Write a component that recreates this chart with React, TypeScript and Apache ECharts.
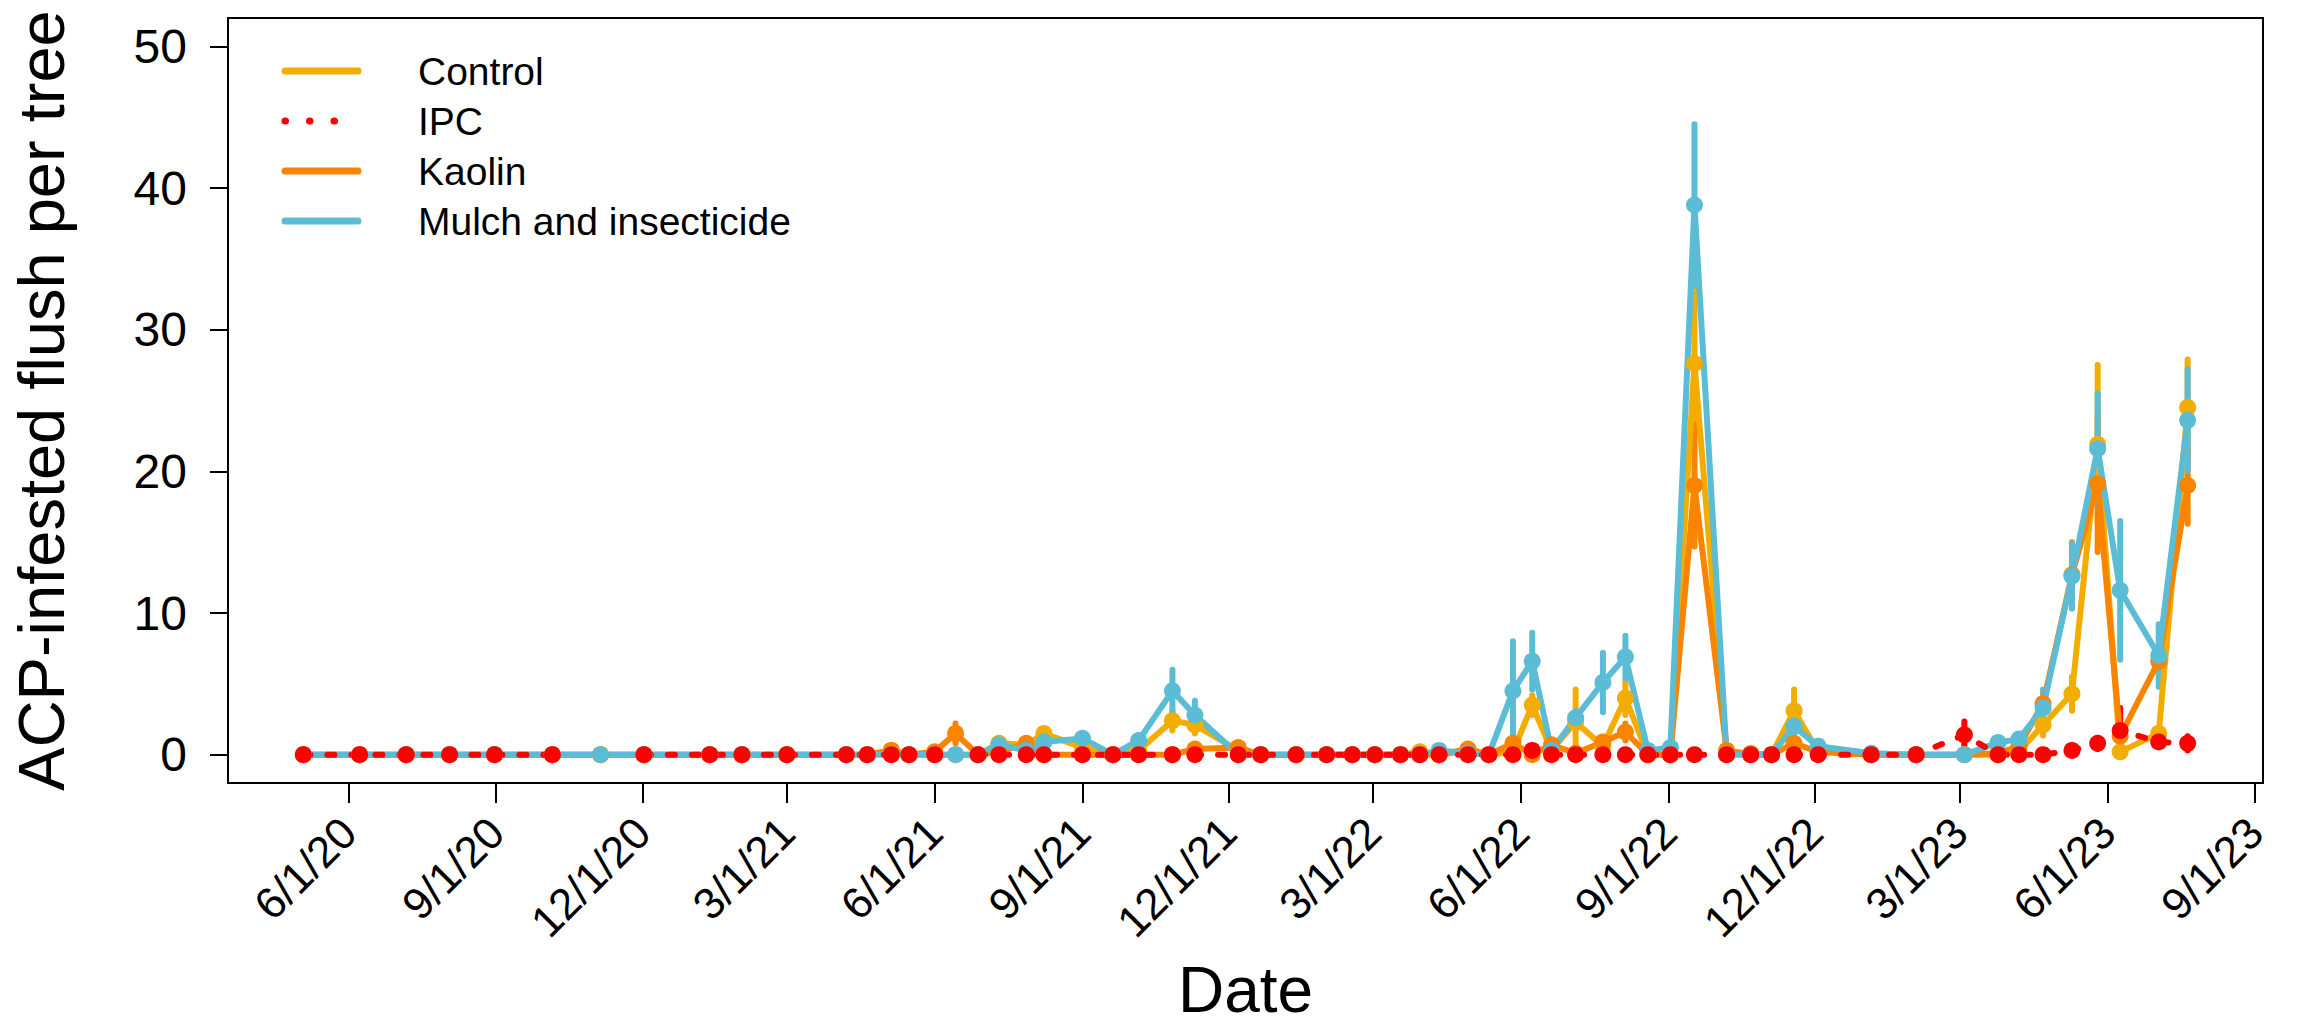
import React, { useEffect, useRef } from "react";
import * as echarts from "echarts";

const dates = [
  "2020-05-04", "2020-06-08", "2020-07-07", "2020-08-03", "2020-08-31", "2020-10-06", "2020-11-05", "2020-12-02", "2021-01-12", "2021-02-01",
  "2021-03-01", "2021-04-07", "2021-04-20", "2021-05-05", "2021-05-16", "2021-06-01", "2021-06-14", "2021-06-28", "2021-07-11", "2021-07-28",
  "2021-08-08", "2021-09-01", "2021-09-20", "2021-10-06", "2021-10-27", "2021-11-10", "2021-12-07", "2021-12-21", "2022-01-12", "2022-01-31",
  "2022-02-16", "2022-03-02", "2022-03-18", "2022-03-30", "2022-04-11", "2022-04-29", "2022-05-12", "2022-05-27", "2022-06-08", "2022-06-20",
  "2022-07-05", "2022-07-22", "2022-08-05", "2022-08-19", "2022-09-02", "2022-09-17", "2022-10-07", "2022-10-22", "2022-11-04", "2022-11-18",
  "2022-12-03", "2023-01-05", "2023-02-02", "2023-03-04", "2023-03-25", "2023-04-07", "2023-04-22", "2023-05-10", "2023-05-26", "2023-06-09",
  "2023-07-03", "2023-07-21",
];

const control = [
  0, 0, 0, 0, 0, 0, 0, 0, 0, 0,
  0, 0, 0, 0.3, 0, 0, 0, 0, 0.8, 0.7,
  1.5, 0.5, 0, 0.3, 2.4, 2.1, 0.3, 0, 0, 0,
  0, 0, 0, 0.2, 0, 0.3, 0, 0.2, 3.5, 0.3,
  2.3, 0.6, 4.0, 0, 0, 27.6, 0.2, 0.1, 0, 3.1,
  0.2, 0, 0, 0, 0, 0.2, 2.1, 4.3, 21.9, 0.2,
  1.5, 24.5,
];
const controlSE = [
  0, 0, 0, 0, 0, 0, 0, 0, 0, 0,
  0, 0, 0, 0, 0, 0, 0, 0, 0.2, 0.1,
  0.3, 0, 0, 0, 0.7, 0.6, 0, 0, 0, 0,
  0, 0, 0, 0, 0, 0, 0, 0, 0.7, 0,
  2.3, 0, 1.2, 0, 0, 5.2, 0, 0, 0, 1.5,
  0, 0, 0, 0, 0, 0, 0.75, 1.2, 5.6, 0,
  0.4, 3.4,
];

const ipc = [
  0, 0, 0, 0, 0, 0, null, 0, 0, 0,
  0, 0, 0, 0, 0, 0, null, 0, 0, 0,
  0, 0, 0, 0, 0, 0, 0, 0, 0, 0,
  0, 0, 0, 0, 0, 0, 0, 0, 0.3, 0,
  0, 0, 0, 0, 0, 0, 0, 0, 0, 0,
  0, 0, 0, 1.4, 0, 0, 0, 0.3, 0.8, 1.7,
  0.9, 0.8,
];
const ipcSE = [
  0, 0, 0, 0, 0, 0, 0, 0, 0, 0,
  0, 0, 0, 0, 0, 0, 0, 0, 0, 0,
  0, 0, 0, 0, 0, 0, 0, 0, 0, 0,
  0, 0, 0, 0, 0, 0, 0, 0, 0, 0,
  0, 0, 0, 0, 0, 0, 0, 0, 0, 0,
  0, 0, 0, 0.95, 0, 0, 0, 0.2, 0.4, 1.6,
  0.3, 0.5,
];

const kaolin = [
  0, 0, 0, 0, 0, 0, 0, 0, 0, 0,
  0, 0, 0, 0.3, 0, 0.2, 1.5, 0, 0.2, 0.8,
  0, 0, 0, 0, 0, 0.4, 0.5, 0, 0, 0,
  0, 0, 0, 0, 0, 0.4, 0, 0.8, 0, 0.7,
  0.1, 0.9, 1.6, 0, 0, 19.0, 0.3, 0, 0, 0.8,
  0.2, 0, 0, 0, 0.1, 0.6, 3.6, 12.7, 19.1, 1.3,
  6.6, 19.0,
];
const kaolinSE = [
  0, 0, 0, 0, 0, 0, 0, 0, 0, 0,
  0, 0, 0, 0, 0, 0, 0.7, 0, 0, 0.1,
  0, 0, 0, 0, 0, 0, 0, 0, 0, 0,
  0, 0, 0, 0, 0, 0, 0, 0, 0, 0,
  0, 0.3, 0.6, 0, 0, 4.3, 0, 0, 0, 0,
  0, 0, 0, 0, 0, 0, 0.5, 2.3, 4.8, 0.5,
  0.5, 2.7,
];

const mulch = [
  0, 0, 0, 0, 0, 0, 0, 0, 0, 0,
  0, 0, 0, 0, 0, 0, 0, 0, 0.7, 0.3,
  0.9, 1.15, 0, 1.0, 4.5, 2.8, 0, 0, 0, 0,
  0, 0, 0, 0, 0.3, 0.1, 0, 4.5, 6.6, 0.3,
  2.6, 5.1, 6.9, 0.3, 0.5, 38.8, 0, 0, 0, 2.0,
  0.6, 0.1, 0, 0, 0.85, 1.1, 3.3, 12.6, 21.6, 11.6,
  7.0, 23.6,
];
const mulchSE = [
  0, 0, 0, 0, 0, 0, 0, 0, 0, 0,
  0, 0, 0, 0, 0, 0, 0, 0, 0, 0,
  0, 0.3, 0, 0.3, 1.5, 1.0, 0, 0, 0, 0,
  0, 0, 0, 0, 0, 0, 0, 3.5, 2.0, 0,
  0.5, 2.1, 1.5, 0, 0, 5.7, 0, 0, 0, 0.6,
  0, 0, 0, 0, 0, 0, 1.3, 2.3, 3.9, 4.9,
  2.2, 3.6,
];

const xTickDates = [
  "2020-06-01", "2020-09-01", "2020-12-01", "2021-03-01", "2021-06-01", "2021-09-01", "2021-12-01",
  "2022-03-01", "2022-06-01", "2022-09-01", "2022-12-01", "2023-03-01", "2023-06-01", "2023-09-01",
];
const yTicks = [0, 10, 20, 30, 40, 50];

const seriesNames = ["Control", "IPC", "Kaolin", "Mulch and insecticide"];

const COLORS = {
  Control: "#F2AD00",
  IPC: "#FF0000",
  Kaolin: "#F98400",
  Mulch: "#5BBCD6",
};

const FONT = "'Liberation Sans', Arial, Helvetica, sans-serif";

function toTs(s: string): number {
  const [y, m, d] = s.split("-").map(Number);
  return Date.UTC(y, m - 1, d);
}

function fmtDate(v: number): string {
  const d = new Date(v);
  return `${d.getUTCMonth() + 1}/${d.getUTCDate()}/${String(d.getUTCFullYear()).slice(2)}`;
}

export default function App() {
  const ref = useRef<HTMLDivElement>(null);

  useEffect(() => {
    if (!ref.current) return;
    const chart = echarts.init(ref.current, undefined, { renderer: "svg" });

    const ts = dates.map(toTs);
    const range = ts[ts.length - 1] - ts[0];
    const xMin = ts[0] - 0.04 * range;
    const xMax = ts[ts.length - 1] + 0.04 * range;
    const xTicks = xTickDates.map(toTs);

    const LW = 6;

    const mkLine = (name: string, vals: (number | null)[], color: string, dashed: boolean) => ({
      type: "line",
      name,
      data: vals.map((v, i) => [ts[i], v === null ? "-" : v]),
      symbol: "circle",
      symbolSize: 17,
      showSymbol: true,
      connectNulls: false,
      clip: false,
      lineStyle: { color, width: LW, type: dashed ? [7, 17] : "solid", cap: "round", join: "round" },
      itemStyle: { color },
      emphasis: { disabled: true },
      silent: true,
    });

    const mkErr = (vals: (number | null)[], se: number[], color: string) => ({
      type: "custom",
      silent: true,
      data: vals
        .map((v, i) => (v === null || !se[i] ? null : [ts[i], v - se[i], v + se[i]]))
        .filter((d) => d !== null),
      encode: { x: 0, y: [1, 2] },
      renderItem: (_params: any, api: any) => {
        const x = api.value(0);
        const p1 = api.coord([x, api.value(1)]);
        const p2 = api.coord([x, api.value(2)]);
        return {
          type: "line",
          shape: { x1: p1[0], y1: p1[1], x2: p2[0], y2: p2[1] },
          style: { stroke: color, lineWidth: LW, lineCap: "round" },
        };
      },
    });

    const legendItems = [
      { name: seriesNames[0], color: COLORS.Control, dash: false },
      { name: seriesNames[1], color: COLORS.IPC, dash: true },
      { name: seriesNames[2], color: COLORS.Kaolin, dash: false },
      { name: seriesNames[3], color: COLORS.Mulch, dash: false },
    ];

    const graphic: any[] = [];
    legendItems.forEach((it, i) => {
      const y = 71 + 50 * i;
      graphic.push({
        type: "line",
        shape: { x1: 285, y1: y, x2: 358, y2: y },
        style: {
          stroke: it.color,
          lineWidth: 7,
          lineCap: "round",
          lineDash: it.dash ? [0.5, 24] : null,
        },
        silent: true,
      });
      graphic.push({
        type: "text",
        x: 418,
        y,
        style: {
          text: it.name,
          fontSize: 39,
          fontFamily: FONT,
          fill: "#000",
          verticalAlign: "middle",
          align: "left",
        },
        silent: true,
      });
    });

    const option: any = {
      animation: false,
      backgroundColor: "#fff",
      grid: {
        left: 228,
        right: 39,
        top: 18,
        bottom: 250,
        show: true,
        borderColor: "#000",
        borderWidth: 2,
        backgroundColor: "transparent",
        containLabel: false,
        outerBoundsMode: "none",
      },
      xAxis: {
        type: "value",
        min: xMin,
        max: xMax,
        axisLine: { show: false, onZero: false },
        splitLine: { show: false },
        axisTick: {
          show: true,
          customValues: xTicks,
          length: 20,
          lineStyle: { color: "#000", width: 2 },
        },
        axisLabel: {
          customValues: xTicks,
          formatter: (v: number) => fmtDate(v),
          rotate: 45,
          margin: 42,
          fontSize: 44,
          color: "#000",
          fontFamily: FONT,
        },
        name: "Date",
        nameLocation: "middle",
        nameGap: 176,
        nameTextStyle: { fontSize: 64, lineHeight: 62, color: "#000", fontFamily: FONT },
      },
      yAxis: {
        type: "value",
        min: -2,
        max: 52,
        axisLine: { show: false, onZero: false },
        splitLine: { show: false },
        axisTick: {
          show: true,
          customValues: yTicks,
          length: 18,
          lineStyle: { color: "#000", width: 2 },
        },
        axisLabel: {
          customValues: yTicks,
          margin: 41,
          fontSize: 48,
          color: "#000",
          fontFamily: FONT,
        },
        name: "ACP-infested flush per tree",
        nameLocation: "middle",
        nameGap: 154,
        nameRotate: 90,
        nameTextStyle: { fontSize: 65, color: "#000", fontFamily: FONT },
      },
      graphic,
      series: [
        mkErr(control, controlSE, COLORS.Control),
        mkLine(seriesNames[0], control, COLORS.Control, false),
        mkErr(kaolin, kaolinSE, COLORS.Kaolin),
        mkLine(seriesNames[2], kaolin, COLORS.Kaolin, false),
        mkErr(mulch, mulchSE, COLORS.Mulch),
        mkLine(seriesNames[3], mulch, COLORS.Mulch, false),
        mkErr(ipc, ipcSE, COLORS.IPC),
        mkLine(seriesNames[1], ipc, COLORS.IPC, true),
      ],
    };

    chart.setOption(option);
    return () => chart.dispose();
  }, []);

  return (
    <div
      ref={ref}
      style={{ position: "fixed", left: 0, top: 0, width: 2302, height: 1033, background: "#fff" }}
    />
  );
}
